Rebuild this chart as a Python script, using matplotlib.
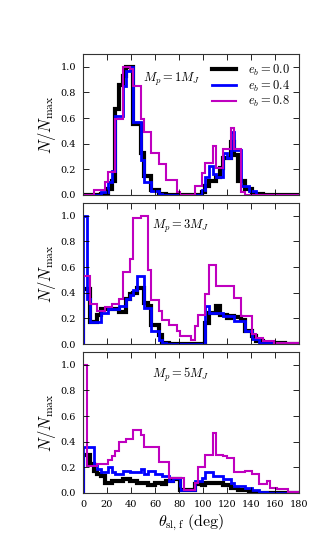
import numpy as np
import matplotlib
matplotlib.use("Agg")
import matplotlib.pyplot as plt

plt.rcParams['mathtext.fontset'] = 'cm'
plt.rcParams['font.family'] = ['DejaVu Serif']

# bin edges: 3 degree bins from 0 to 180
bin_width = 3
n_bins = 60
edges = np.arange(0, 180 + bin_width, bin_width)

def series(pairs):
    """Build a 60-bin array from (start_bin, end_bin_inclusive, value) runs."""
    v = np.zeros(n_bins)
    for a, b, val in pairs:
        v[a:b + 1] = val
    return v

# ---- Mp = 1 MJ ----
mp1_e00 = series([(5, 6, 0.01), (7, 7, 0.05), (8, 8, 0.11), (9, 9, 0.67), (10, 10, 0.86),
                  (11, 11, 0.93), (12, 13, 1.0), (14, 15, 0.55), (16, 16, 0.33), (17, 18, 0.15),
                  (19, 20, 0.04), (21, 22, 0.01), (33, 33, 0.02), (34, 34, 0.07), (35, 36, 0.11),
                  (37, 37, 0.14), (38, 38, 0.21), (39, 40, 0.29), (41, 41, 0.41), (42, 42, 0.31),
                  (43, 44, 0.11), (45, 46, 0.045), (47, 49, 0.01)])
mp1_e04 = series([(5, 6, 0.02), (7, 7, 0.1), (8, 8, 0.19), (9, 10, 0.62), (11, 11, 0.85),
                  (12, 12, 0.97), (13, 13, 1.0), (14, 15, 0.57), (16, 16, 0.27), (17, 18, 0.1),
                  (19, 20, 0.03), (21, 21, 0.01), (33, 33, 0.04), (34, 34, 0.14), (35, 35, 0.23),
                  (36, 36, 0.16), (37, 38, 0.14), (39, 39, 0.33), (40, 40, 0.29), (41, 41, 0.49),
                  (42, 43, 0.35), (44, 45, 0.07), (46, 47, 0.03)])
mp1_e08 = series([(3, 5, 0.04), (6, 6, 0.1), (7, 8, 0.18), (9, 10, 0.59), (11, 12, 1.0),
                  (13, 13, 0.98), (14, 15, 0.85), (16, 16, 0.59), (17, 18, 0.49), (19, 20, 0.33),
                  (21, 22, 0.24), (23, 25, 0.12), (26, 26, 0.02), (31, 32, 0.07), (33, 33, 0.17),
                  (34, 35, 0.25), (36, 36, 0.38), (37, 38, 0.21), (39, 40, 0.36), (41, 41, 0.52),
                  (42, 43, 0.36), (44, 44, 0.02)])

# ---- Mp = 3 MJ ----
mp3_e00 = series([(0, 1, 0.43), (2, 3, 0.17), (4, 4, 0.23), (5, 9, 0.27), (10, 11, 0.25),
                  (12, 12, 0.35), (13, 13, 0.39), (14, 14, 0.4), (15, 16, 0.44), (17, 17, 0.32),
                  (18, 18, 0.3), (19, 20, 0.15), (21, 21, 0.07), (22, 23, 0.01),
                  (34, 34, 0.16), (35, 36, 0.24), (37, 37, 0.3), (38, 39, 0.23), (40, 40, 0.2),
                  (41, 41, 0.22), (42, 43, 0.21), (44, 44, 0.19), (45, 46, 0.1), (47, 47, 0.06),
                  (48, 49, 0.02), (50, 55, 0.005)])
mp3_e04 = series([(0, 0, 1.0), (1, 1, 0.35), (2, 4, 0.17), (5, 6, 0.24), (7, 9, 0.27),
                  (10, 11, 0.3), (12, 12, 0.35), (13, 13, 0.38), (14, 14, 0.42), (15, 16, 0.53),
                  (17, 18, 0.28), (19, 20, 0.1), (21, 21, 0.035), (22, 22, 0.01),
                  (34, 34, 0.3), (35, 38, 0.24), (39, 41, 0.22), (42, 44, 0.18), (45, 46, 0.1),
                  (47, 48, 0.04), (49, 52, 0.01)])
mp3_e08 = series([(0, 1, 0.53), (2, 3, 0.31), (4, 5, 0.26), (6, 7, 0.29), (8, 9, 0.31),
                  (10, 10, 0.35), (11, 12, 0.56), (13, 13, 0.66), (14, 15, 0.98), (16, 17, 1.0),
                  (18, 18, 0.58), (19, 20, 0.34), (21, 21, 0.26), (22, 23, 0.19), (24, 25, 0.15),
                  (26, 26, 0.1), (27, 29, 0.06), (30, 30, 0.03), (31, 31, 0.14), (32, 33, 0.23),
                  (34, 34, 0.39), (35, 36, 0.62), (37, 41, 0.45), (42, 43, 0.36), (44, 46, 0.22),
                  (47, 47, 0.08), (48, 49, 0.05), (50, 52, 0.02), (53, 59, 0.01)])

# ---- Mp = 5 MJ ----
mp5_e00 = series([(0, 1, 0.3), (2, 2, 0.23), (3, 3, 0.17), (4, 4, 0.15), (5, 5, 0.13),
                  (6, 7, 0.08), (8, 10, 0.09), (11, 12, 0.11), (13, 14, 0.09), (15, 17, 0.08),
                  (18, 19, 0.06), (20, 21, 0.08), (22, 22, 0.07), (23, 24, 0.09), (25, 26, 0.11),
                  (27, 30, 0.02), (31, 32, 0.07), (33, 33, 0.06), (34, 36, 0.08), (37, 38, 0.075),
                  (39, 40, 0.06), (41, 42, 0.04), (43, 45, 0.025), (46, 46, 0.01)])
mp5_e04 = series([(0, 2, 0.36), (3, 3, 0.23), (4, 4, 0.19), (5, 6, 0.16), (7, 7, 0.2),
                  (8, 8, 0.16), (9, 10, 0.15), (11, 12, 0.17), (13, 15, 0.165), (16, 16, 0.19),
                  (17, 17, 0.15), (18, 19, 0.17), (20, 21, 0.15), (22, 23, 0.13), (24, 24, 0.09),
                  (25, 26, 0.12), (27, 30, 0.02), (31, 32, 0.095), (33, 33, 0.12), (34, 35, 0.16),
                  (36, 36, 0.13), (37, 38, 0.135), (39, 40, 0.11), (41, 41, 0.08), (42, 44, 0.055),
                  (45, 46, 0.04), (47, 48, 0.02), (49, 50, 0.01)])
mp5_e08 = series([(0, 0, 1.0), (1, 3, 0.21), (4, 6, 0.23), (7, 7, 0.26), (8, 8, 0.29),
                  (9, 9, 0.33), (10, 11, 0.4), (12, 13, 0.42), (14, 15, 0.49), (16, 16, 0.45),
                  (17, 20, 0.36), (21, 23, 0.24), (24, 27, 0.12), (28, 30, 0.02), (31, 31, 0.08),
                  (32, 33, 0.2), (34, 35, 0.3), (36, 36, 0.47), (37, 38, 0.3), (39, 39, 0.29),
                  (40, 41, 0.27), (42, 44, 0.16), (45, 46, 0.17), (47, 48, 0.15), (49, 50, 0.07),
                  (51, 51, 0.09), (52, 53, 0.04), (54, 56, 0.03), (57, 59, 0.01)])

ecc_labels = [r'$e_b=0.0$', r'$e_b=0.4$', r'$e_b=0.8$']
mass_labels = [r'$M_p=1M_J$', r'$M_p=3M_J$', r'$M_p=5M_J$']
panels = [[mp1_e00, mp1_e04, mp1_e08],
          [mp3_e00, mp3_e04, mp3_e08],
          [mp5_e00, mp5_e04, mp5_e08]]
xticks = [0, 20, 40, 60, 80, 100, 120, 140, 160, 180]
yticks = [0.0, 0.2, 0.4, 0.6, 0.8, 1.0]

colors = ['k', 'b', 'm']
lws = [3.0, 2.0, 1.5]

fig = plt.figure(figsize=(3.32, 5.48), dpi=100)
left, right = 83 / 332, 299 / 332
tops = [54, 203, 352]
h = 141
label_pos = [(0.28, 0.80), (0.32, 0.82), (0.32, 0.82)]

for i, (vals, mlab) in enumerate(zip(panels, mass_labels)):
    top = tops[i]
    ax = fig.add_axes([left, 1 - (top + h) / 548, right - left, h / 548])
    for v, c, lw, lab in zip(vals, colors, lws, ecc_labels):
        ax.stairs(v, edges, color=c, lw=lw, baseline=0, label=lab)
    ax.set_xlim(0, 180)
    ax.set_ylim(0, 1.1)
    ax.set_xticks(xticks)
    ax.set_yticks(yticks)
    ax.tick_params(direction='in', top=True, right=True, labelsize=7, length=4, width=0.6,
                   pad=5)
    for s in ax.spines.values():
        s.set_linewidth(0.8)
        s.set_color('#333333')
    if i < 2:
        ax.set_xticklabels([])
    else:
        ax.set_xlabel(r'$\theta_{\rm sl,f}\ ({\rm deg})$', fontsize=11.5, labelpad=3)
    ax.set_ylabel(r'$N/N_{\rm max}$', fontsize=12, labelpad=2)
    ax.text(label_pos[i][0], label_pos[i][1], mlab, transform=ax.transAxes, fontsize=9, ha='left')
    if i == 0:
        ax.legend(loc='upper right', frameon=False, fontsize=9, handlelength=1.9,
                  labelspacing=0.05, borderaxespad=0.3, handletextpad=1.0)

fig.savefig('out.png', dpi=100)
